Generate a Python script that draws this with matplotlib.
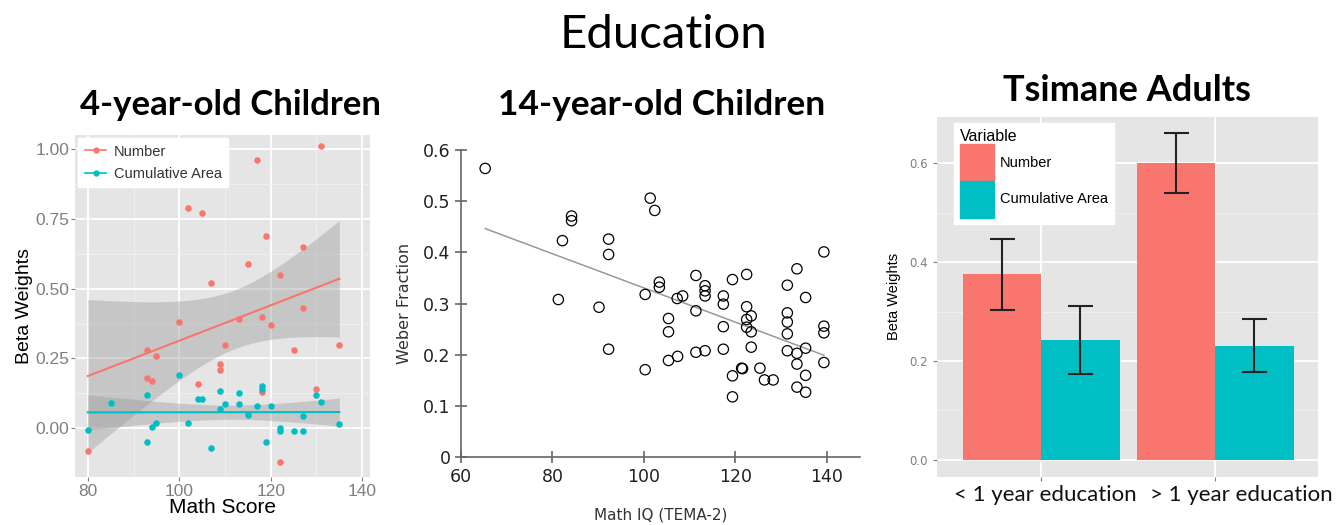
import numpy as np
import matplotlib
matplotlib.use("Agg")
import matplotlib.pyplot as plt
import matplotlib.transforms as mtransforms
from matplotlib.lines import Line2D
from matplotlib.patches import Patch

RED = "#F8766D"
TEAL = "#00BFC4"
PANEL = "#E5E5E5"
TICKC = "#7F7F7F"
TITLE_FONT = ["Lato", "DejaVu Sans"]

# 4-year-old children: beta weights vs math score
num_x = [131, 117, 102, 105, 119, 127, 115, 107, 122, 127, 100, 113, 118, 120,
         110, 93, 95, 125, 135, 93, 94, 109, 109, 104, 118, 130, 80, 122]
num_y = [1.01, 0.96, 0.79, 0.77, 0.69, 0.65, 0.59, 0.52, 0.55, 0.43, 0.38, 0.39,
         0.40, 0.37, 0.30, 0.28, 0.26, 0.28, 0.30, 0.18, 0.17, 0.23, 0.21, 0.16,
         0.13, 0.14, -0.08, -0.12]
area_x = [100, 93, 85, 104, 105, 109, 113, 118, 118, 110, 109, 113, 117, 120,
          115, 127, 130, 131, 135, 102, 95, 94, 80, 93, 107, 119, 122, 122, 125, 127]
area_y = [0.19, 0.12, 0.09, 0.105, 0.105, 0.135, 0.125, 0.15, 0.14, 0.085, 0.07,
          0.085, 0.078, 0.08, 0.048, 0.045, 0.12, 0.095, 0.015, 0.02, 0.02, 0.005,
          -0.005, -0.05, -0.07, -0.05, 0.0, -0.01, -0.01, -0.01]

# 14-year-old children: Weber fraction vs math IQ
iq_x = [65.3, 81.3, 82.2, 84.2, 84.2, 90.2, 92.3, 92.3, 92.3, 100.3, 100.3, 101.4,
        102.4, 103.4, 103.4, 105.4, 105.4, 105.4, 107.4, 107.3, 108.5, 111.4, 111.4,
        111.4, 113.4, 113.4, 113.4, 113.4, 117.4, 117.4, 117.4, 117.4, 119.4, 119.4,
        119.4, 121.4, 121.6, 122.5, 122.5, 122.5, 122.5, 123.5, 123.5, 123.5, 125.4,
        126.4, 128.3, 131.4, 131.4, 131.4, 131.4, 131.4, 133.5, 133.5, 133.5, 133.5,
        135.4, 135.4, 135.4, 135.4, 139.4, 139.4, 139.4, 139.4]
weber = [0.564, 0.308, 0.423, 0.471, 0.462, 0.293, 0.426, 0.396, 0.211, 0.318, 0.171,
         0.506, 0.482, 0.342, 0.332, 0.271, 0.245, 0.189, 0.197, 0.310, 0.315, 0.355,
         0.286, 0.205, 0.335, 0.325, 0.315, 0.208, 0.315, 0.299, 0.255, 0.211, 0.347,
         0.159, 0.118, 0.174, 0.173, 0.357, 0.294, 0.269, 0.254, 0.276, 0.245, 0.215,
         0.174, 0.151, 0.151, 0.336, 0.282, 0.264, 0.241, 0.208, 0.368, 0.203, 0.182,
         0.137, 0.312, 0.213, 0.160, 0.127, 0.401, 0.256, 0.243, 0.185]

# Tsimane adults: bar chart
groups = ["< 1 year education", "> 1 year education"]
bar_num = [0.376, 0.600]
bar_num_lo = [0.303, 0.539]
bar_num_hi = [0.446, 0.662]
bar_area = [0.243, 0.231]
bar_area_lo = [0.173, 0.177]
bar_area_hi = [0.311, 0.285]


def gg_style(ax):
    ax.set_facecolor(PANEL)
    for s in ax.spines.values():
        s.set_visible(False)
    ax.grid(which="major", color="white", lw=1.3)
    ax.grid(which="minor", color="#F2F2F2", lw=0.6)
    ax.set_axisbelow(True)
    ax.tick_params(which="major", length=3, color=TICKC, labelcolor=TICKC)
    ax.tick_params(which="minor", length=0)


def lm_band(ax, x, y, color):
    x = np.asarray(x, float)
    y = np.asarray(y, float)
    b, a = np.polyfit(x, y, 1)
    xs = np.linspace(x.min(), x.max(), 100)
    yh = a + b * xs
    n = len(x)
    resid = y - (a + b * x)
    s = np.sqrt(np.sum(resid ** 2) / (n - 2))
    se = s * np.sqrt(1 / n + (xs - x.mean()) ** 2 / np.sum((x - x.mean()) ** 2))
    ax.fill_between(xs, yh - 2.05 * se, yh + 2.05 * se, color="#999999", alpha=0.4, lw=0, zorder=2)
    ax.plot(xs, yh, color=color, lw=1.5, zorder=3)


fig = plt.figure(figsize=(13.4, 5.25), dpi=100)
fig.text(0.495, 0.933, "Education", ha="center", va="center", fontsize=34, family=TITLE_FONT)
fig.text(0.172, 0.80, "4-year-old Children", ha="center", va="center", fontsize=25,
         fontweight="bold", family=TITLE_FONT)
fig.text(0.494, 0.80, "14-year-old Children", ha="center", va="center", fontsize=25.5,
         fontweight="bold", family=TITLE_FONT)
fig.text(0.841, 0.828, "Tsimane Adults", ha="center", va="center", fontsize=26,
         fontweight="bold", family=TITLE_FONT)

# panel 1
ax1 = fig.add_axes([0.056, 0.0914, 0.2201, 0.6514])
gg_style(ax1)
ax1.scatter(num_x, num_y, s=22, color=RED, zorder=4, lw=0)
ax1.scatter(area_x, area_y, s=22, color=TEAL, zorder=4, lw=0)
lm_band(ax1, num_x, num_y, RED)
lm_band(ax1, area_x, area_y, TEAL)
ax1.set_xlim(77.2, 141.7)
ax1.set_ylim(-0.175, 1.051)
ax1.set_xticks([80, 100, 120, 140])
ax1.set_xticks([90, 110, 130], minor=True)
ax1.set_yticks([0, 0.25, 0.5, 0.75, 1.0])
ax1.set_yticklabels(["0.00", "0.25", "0.50", "0.75", "1.00"])
ax1.set_yticks([0.125, 0.375, 0.625, 0.875], minor=True)
ax1.tick_params(labelsize=12.5)
ax1.tick_params(axis="y", pad=1)
ax1.tick_params(axis="x", pad=2)
for t in ax1.get_xticklabels() + ax1.get_yticklabels():
    t.set_family("Liberation Sans")
ax1.set_ylabel("Beta Weights", fontsize=14, family="Liberation Sans", labelpad=2)
ax1.set_xlabel("Math Score", fontsize=15, family="Liberation Sans", labelpad=-1)
h1 = [Line2D([], [], color=RED, lw=1.2, marker="o", ms=3.5),
      Line2D([], [], color=TEAL, lw=1.2, marker="o", ms=3.5)]
leg1 = ax1.legend(h1, ["Number", "Cumulative Area"], loc="upper left",
                  bbox_to_anchor=(3 / 295, 1 - 3 / 342), borderaxespad=0,
                  frameon=True, fancybox=False, framealpha=1, edgecolor="white",
                  handlelength=1.5, handletextpad=0.5, labelspacing=0.55, borderpad=0.45,
                  prop={"family": "Liberation Sans", "size": 10.5})
for t in leg1.get_texts():
    t.set_color("#333333")

# panel 2
ax2 = fig.add_axes([0.344, 0.129, 0.2978, 0.5853])
ax2.scatter(iq_x, weber, s=55, facecolors="none", edgecolors="black", lw=0.9, zorder=3, clip_on=False)
b2, a2 = np.polyfit(iq_x, weber, 1)
xs2 = np.array([min(iq_x), max(iq_x)])
ax2.plot(xs2, a2 + b2 * xs2, color="#999999", lw=1.1, zorder=2)
ax2.set_xlim(60, 147.3)
ax2.set_ylim(0, 0.6)
ax2.set_xticks([60, 80, 100, 120, 140])
ax2.set_yticks([0, 0.1, 0.2, 0.3, 0.4, 0.5, 0.6])
ax2.set_yticklabels(["0", "0.1", "0.2", "0.3", "0.4", "0.5", "0.6"])
for side in ["top", "right"]:
    ax2.spines[side].set_visible(False)
for side in ["left", "bottom"]:
    ax2.spines[side].set_color("#666666")
    ax2.spines[side].set_linewidth(1.2)
ax2.tick_params(direction="inout", length=8, width=1.2, color="#666666",
                labelsize=12.5, labelcolor="#222222")
ax2.set_ylabel("Weber Fraction", fontsize=11.5, color="#333333", labelpad=8)
ax2.set_xlabel("Math IQ (TEMA-2)", fontsize=11, color="#333333", labelpad=16)

# panel 3
ax3 = fig.add_axes([0.699, 0.092, 0.2846, 0.6857])
gg_style(ax3)
pos = np.arange(1, len(groups) + 1)
w = 0.45
ax3.bar(pos - w / 2, bar_num, width=w, color=RED, zorder=2)
ax3.bar(pos + w / 2, bar_area, width=w, color=TEAL, zorder=2)
ax3.errorbar(pos - w / 2, bar_num,
             yerr=[np.subtract(bar_num, bar_num_lo), np.subtract(bar_num_hi, bar_num)],
             fmt="none", ecolor="#222222", elinewidth=1.5, capsize=9, capthick=1.5, zorder=3)
ax3.errorbar(pos + w / 2, bar_area,
             yerr=[np.subtract(bar_area, bar_area_lo), np.subtract(bar_area_hi, bar_area)],
             fmt="none", ecolor="#222222", elinewidth=1.5, capsize=9, capthick=1.5, zorder=3)
ax3.set_xlim(0.4, 2.59)
ax3.set_ylim(-0.034, 0.694)
ax3.set_xticks(pos)
ax3.set_xticklabels([""] * len(groups))
# category labels sit a little right of their ticks in the source, the second more so
base = mtransforms.blended_transform_factory(ax3.transData, ax3.transAxes)
for p, lab, dx in zip(pos, groups, [4, 26]):
    off = mtransforms.ScaledTranslation(dx / 100, -18 / 100, fig.dpi_scale_trans)
    ax3.text(p, 0, lab, transform=base + off, ha="center", va="center",
             fontsize=16, color="#111111", family=TITLE_FONT)
ax3.set_yticks([0, 0.2, 0.4, 0.6])
ax3.set_yticklabels(["0.0", "0.2", "0.4", "0.6"])
ax3.set_yticks([0.1, 0.3, 0.5], minor=True)
ax3.tick_params(axis="y", labelsize=8.5)
ax3.set_ylabel("Beta Weights", fontsize=10.5, family="Liberation Sans", labelpad=6)
h3 = [Patch(color=RED), Patch(color=TEAL)]
leg3 = ax3.legend(h3, ["Number", "Cumulative Area"], title="Variable", loc="upper left",
                  bbox_to_anchor=(17 / 381, 1 - 6 / 360), borderaxespad=0,
                  frameon=True, fancybox=False, framealpha=1, edgecolor="white",
                  handlelength=2.3, handleheight=3.5, labelspacing=0,
                  handletextpad=0.4, borderpad=0.45,
                  prop={"family": "Liberation Sans", "size": 10.5},
                  title_fontproperties={"family": "Liberation Sans", "size": 11.5})
leg3._legend_box.align = "left"

fig.savefig("out.png", dpi=100)
